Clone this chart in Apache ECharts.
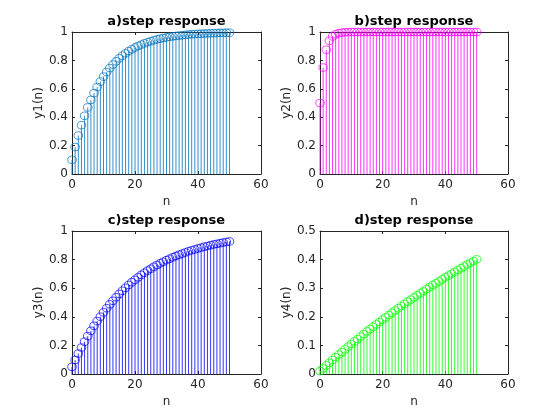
<!DOCTYPE html>
<html>
<head>
<meta charset="utf-8">
<script src="https://cdn.jsdelivr.net/npm/echarts@6/dist/echarts.min.js"></script>
<style>
html, body { margin: 0; padding: 0; background: #fff; }
#chart { width: 560px; height: 420px; }
</style>
</head>
<body>
<div id="chart"></div>
<script>
// sample index n
var n = [0, 1, 2, 3, 4, 5, 6, 7, 8, 9, 10, 11, 12, 13, 14, 15, 16, 17, 18, 19, 20,
         21, 22, 23, 24, 25, 26, 27, 28, 29, 30, 31, 32, 33, 34, 35, 36, 37, 38, 39, 40,
         41, 42, 43, 44, 45, 46, 47, 48, 49, 50];

// step responses
var y1 = [0.100, 0.190, 0.271, 0.344, 0.410, 0.469, 0.522, 0.570, 0.613, 0.651,
          0.686, 0.718, 0.746, 0.771, 0.794, 0.815, 0.833, 0.850, 0.865, 0.878,
          0.891, 0.902, 0.911, 0.920, 0.928, 0.935, 0.942, 0.948, 0.953, 0.958,
          0.962, 0.966, 0.969, 0.972, 0.975, 0.977, 0.980, 0.982, 0.984, 0.985,
          0.987, 0.988, 0.989, 0.990, 0.991, 0.992, 0.993, 0.994, 0.994, 0.995, 0.995];
var y2 = [0.500, 0.750, 0.875, 0.938, 0.969, 0.984, 0.992, 0.996, 0.998, 0.999,
          1, 1, 1, 1, 1, 1, 1, 1, 1, 1, 1, 1, 1, 1, 1, 1, 1, 1, 1, 1, 1,
          1, 1, 1, 1, 1, 1, 1, 1, 1, 1, 1, 1, 1, 1, 1, 1, 1, 1, 1, 1];
var y3 = [0.050, 0.098, 0.143, 0.185, 0.226, 0.265, 0.302, 0.337, 0.370, 0.401,
          0.431, 0.460, 0.487, 0.512, 0.537, 0.560, 0.582, 0.603, 0.623, 0.642,
          0.659, 0.676, 0.693, 0.708, 0.723, 0.736, 0.750, 0.762, 0.774, 0.785,
          0.796, 0.806, 0.816, 0.825, 0.834, 0.842, 0.850, 0.858, 0.865, 0.871,
          0.878, 0.884, 0.890, 0.895, 0.901, 0.906, 0.910, 0.915, 0.919, 0.923, 0.927];
var y4 = [0.010, 0.020, 0.030, 0.039, 0.049, 0.059, 0.068, 0.077, 0.086, 0.096,
          0.105, 0.114, 0.122, 0.131, 0.140, 0.149, 0.157, 0.165, 0.174, 0.182,
          0.190, 0.198, 0.206, 0.214, 0.222, 0.230, 0.238, 0.245, 0.253, 0.260,
          0.268, 0.275, 0.282, 0.289, 0.297, 0.304, 0.311, 0.317, 0.324, 0.331,
          0.338, 0.344, 0.351, 0.357, 0.364, 0.370, 0.376, 0.383, 0.389, 0.395, 0.401];

// tick values
var xTicks = [0, 20, 40, 60];
var yTicks1 = [0, 0.2, 0.4, 0.6, 0.8, 1];
var yTicks4 = [0, 0.1, 0.2, 0.3, 0.4, 0.5];

var titles = ['a)step response', 'b)step response', 'c)step response', 'd)step response'];
var yNames = ['y1(n)', 'y2(n)', 'y3(n)', 'y4(n)'];

var FONT = 'DejaVu Sans';
var AX = '#262626';

var panels = [
    {data: y1, yTicks: yTicks1, color: '#0072BD', left: 72, top: 32, width: 189, height: 142},
    {data: y2, yTicks: yTicks1, color: '#FF00FF', left: 320, top: 32, width: 188, height: 142},
    {data: y3, yTicks: yTicks1, color: '#0000FF', left: 72, top: 231, width: 189, height: 143},
    {data: y4, yTicks: yTicks4, color: '#00FF00', left: 320, top: 231, width: 188, height: 143}
];

var grids = [], xAxes = [], yAxes = [], series = [], graphics = [];

panels.forEach(function (p, i) {
    grids.push({left: p.left, top: p.top, width: p.width, height: p.height, show: false});

    //标题
    graphics.push({
        type: 'text',
        x: p.left + p.width / 2,
        y: p.top - 10,
        style: {
            text: titles[i],
            font: 'bold 13px "' + FONT + '"',
            fill: '#000',
            align: 'center',
            verticalAlign: 'middle'
        }
    });

    var xBase = {
        gridIndex: i, type: 'value',
        min: xTicks[0], max: xTicks[xTicks.length - 1], interval: xTicks[1] - xTicks[0],
        axisLine: {show: true, onZero: false, lineStyle: {color: AX, width: 1}},
        axisTick: {show: true, inside: true, length: 3, lineStyle: {color: AX}},
        splitLine: {show: false}
    };
    var yt = p.yTicks;
    var yBase = {
        gridIndex: i, type: 'value',
        min: yt[0], max: yt[yt.length - 1], interval: yt[1] - yt[0],
        axisLine: {show: true, onZero: false, lineStyle: {color: AX, width: 1}},
        axisTick: {show: true, inside: true, length: 3, lineStyle: {color: AX}},
        splitLine: {show: false}
    };

    xAxes.push(Object.assign({}, xBase, {
        position: 'bottom',
        axisLabel: {color: AX, fontSize: 12, fontFamily: FONT, margin: 5},
        name: 'n', nameLocation: 'middle', nameGap: 22,
        nameTextStyle: {color: AX, fontSize: 12, fontFamily: FONT}
    }));
    xAxes.push(Object.assign({}, xBase, {position: 'top', axisLabel: {show: false}}));

    yAxes.push(Object.assign({}, yBase, {
        position: 'left',
        axisLabel: {color: AX, fontSize: 12, fontFamily: FONT, margin: 4},
        name: yNames[i], nameLocation: 'middle', nameGap: 25,
        nameTextStyle: {color: AX, fontSize: 12, fontFamily: FONT}
    }));
    yAxes.push(Object.assign({}, yBase, {position: 'right', axisLabel: {show: false}}));

    var pts = n.map(function (v, k) { return [v, p.data[k]]; });

    //茎线
    series.push({
        type: 'custom',
        xAxisIndex: 2 * i, yAxisIndex: 2 * i,
        encode: {x: 0, y: 1},
        clip: false,
        renderItem: function (params, api) {
            var top = api.coord([api.value(0), api.value(1)]);
            var base = api.coord([api.value(0), 0]);
            return {
                type: 'line',
                shape: {x1: top[0], y1: top[1], x2: base[0], y2: base[1]},
                style: {stroke: p.color, lineWidth: 0.8}
            };
        },
        data: pts,
        silent: true
    });

    //空心圆圈
    series.push({
        type: 'scatter',
        xAxisIndex: 2 * i, yAxisIndex: 2 * i,
        symbol: 'circle',
        symbolSize: [8.5, 7.5],
        clip: false,
        itemStyle: {color: 'rgba(0,0,0,0)', borderColor: p.color, borderWidth: 0.9},
        data: pts,
        silent: true
    });
});

var myChart = echarts.init(document.getElementById('chart'));
myChart.setOption({
    backgroundColor: '#fff',
    animation: false,
    grid: grids,
    xAxis: xAxes,
    yAxis: yAxes,
    graphic: graphics,
    series: series
});
</script>
</body>
</html>
